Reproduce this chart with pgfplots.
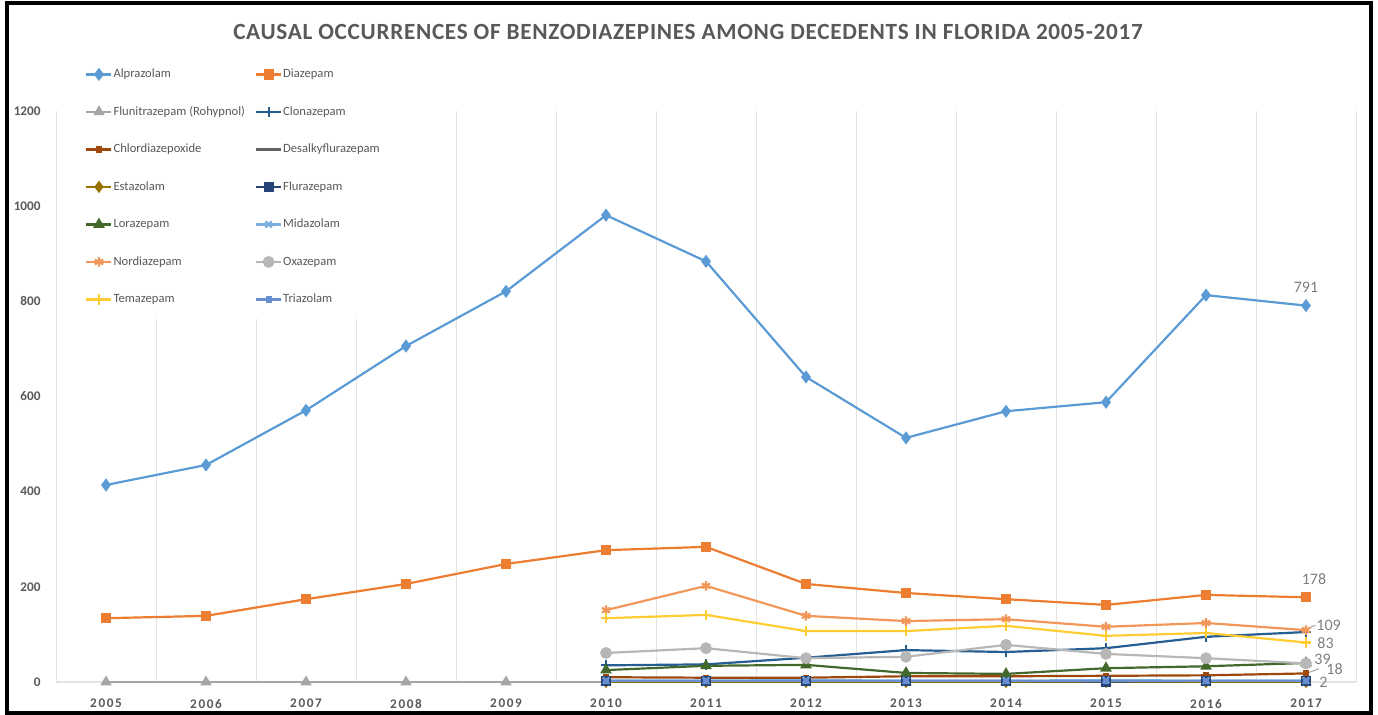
\documentclass[border=0pt]{standalone}
\usepackage{fontspec}
\setmainfont{Carlito}
\newfontfamily\spacedfont[LetterSpace=12]{Carlito}
\newfontfamily\titlefont[LetterSpace=3]{Carlito}
\usepackage{pgfplots}
\pgfplotsset{compat=1.18}
\definecolor{cAlp}{HTML}{5B9BD5}
\definecolor{cDia}{HTML}{ED7D31}
\definecolor{cFlu}{HTML}{A5A5A5}
\definecolor{cClo}{HTML}{255E91}
\definecolor{cChl}{HTML}{9E480E}
\definecolor{cDes}{HTML}{636363}
\definecolor{cEst}{HTML}{997300}
\definecolor{cFlz}{HTML}{264478}
\definecolor{cLor}{HTML}{43682B}
\definecolor{cMid}{HTML}{7CAFDD}
\definecolor{cNor}{HTML}{F1975A}
\definecolor{cOxa}{HTML}{B7B7B7}
\definecolor{cTem}{HTML}{FFCD33}
\definecolor{cTri}{HTML}{698ED0}
\definecolor{cTxt}{HTML}{595959}
\definecolor{cGrid}{HTML}{E3E3E3}
\definecolor{cLab}{HTML}{7F7F7F}
\begin{document}
\begin{tikzpicture}
\path[use as bounding box] (0,0) rectangle (689pt,357.5pt);
\draw[line width=2pt] (3.5pt,1pt) rectangle (685.5pt,356pt);
\node[font=\titlefont\bfseries\fontsize{11.6}{13}\selectfont, text=cTxt] at (344pt,341.5pt) {CAUSAL OCCURRENCES OF BENZODIAZEPINES AMONG DECEDENTS IN FLORIDA 2005-2017};
\begin{axis}[
  at={(28pt,16.5pt)}, anchor=south west, scale only axis,
  width=650pt, height=285.5pt,
  xmin=-0.5, xmax=12.5, ymin=0, ymax=1200,
  xtick={0,...,12},
  xticklabels={2005,2006,2007,2008,2009,2010,2011,2012,2013,2014,2015,2016,2017},
  ytick={0,200,...,1200},
  yticklabels={0,200,400,600,800,1000,1200},
  minor xtick={-0.5,0.5,...,12.5},
  xminorgrids,
  minor grid style={draw=cGrid, line width=0.45pt},
  major tick length=0pt, minor tick length=0pt,
  axis x line*=bottom, axis y line*=left,
  y axis line style={draw=none},
  x axis line style={draw=cGrid, line width=0.7pt},
  xticklabel style={font=\spacedfont\bfseries\fontsize{6.6}{7}\selectfont, text=cTxt, yshift=-5pt},
  yticklabel style={font=\bfseries\fontsize{6.6}{7}\selectfont, text=cTxt, xshift=-4.2pt},
  clip=false,
  legend columns=2,
  legend cell align=left,
  legend style={at={(0.0115,1.0998)}, anchor=north west, draw=none, fill=white,
    inner sep=7pt, font=\fontsize{6.3}{7}\selectfont, text=cTxt,
    nodes={inner sep=0pt, text height=4.6pt, text depth=1.4pt},
    row sep=12.75pt, column sep=0.5pt,
    /tikz/every even column/.append style={column sep=5pt}},
  legend image code/.code={\draw[mark repeat=2,mark phase=2] plot coordinates {(0pt,0pt)(6.25pt,0pt)(12.5pt,0pt)};},
  every axis plot/.append style={line width=1.1pt},
]
% Alprazolam
\addplot[color=cAlp, mark=diamond*, mark size=2.4pt] coordinates {
 (0,414) (1,456) (2,571) (3,706) (4,821) (5,981) (6,884) (7,641) (8,513) (9,569) (10,588) (11,813) (12,791)};
\addlegendentry{Alprazolam}
% Diazepam
\addplot[color=cDia, mark=square*, mark size=2pt] coordinates {
 (0,134) (1,139) (2,174) (3,206) (4,248) (5,277) (6,284) (7,206) (8,187) (9,174) (10,162) (11,183) (12,178)};
\addlegendentry{Diazepam}
% Flunitrazepam
\addplot[color=cFlu, mark=triangle*, mark size=2.2pt] coordinates {
 (0,0) (1,0) (2,0) (3,0) (4,0) (5,0) (6,0) (7,0) (8,0) (9,0) (10,0) (11,0) (12,0)};
\addlegendentry{Flunitrazepam (Rohypnol)}
% Clonazepam
\addplot[color=cClo, mark=+, mark size=2.6pt] coordinates {
 (5,35) (6,37) (7,51) (8,67) (9,63) (10,71) (11,95) (12,105)};
\addlegendentry{Clonazepam}
% Chlordiazepoxide
\addplot[color=cChl, mark=square*, mark size=1pt] coordinates {
 (5,10) (6,9) (7,9) (8,12) (9,12) (10,13) (11,14) (12,18)};
\addlegendentry{Chlordiazepoxide}
% Desalkylflurazepam
\addplot[color=cDes, mark=-, mark size=2.5pt] coordinates {
 (5,1) (6,1) (7,1) (8,1) (9,1) (10,1) (11,1) (12,1)};
\addlegendentry{Desalkyflurazepam}
% Estazolam
\addplot[color=cEst, mark=diamond*, mark size=2.2pt] coordinates {
 (5,0) (6,0) (7,0) (8,0) (9,0) (10,0) (11,0) (12,0)};
\addlegendentry{Estazolam}
% Flurazepam
\addplot[color=cFlz, mark=square*, mark size=2pt] coordinates {
 (5,2) (6,2) (7,2) (8,2) (9,2) (10,1) (11,2) (12,2)};
\addlegendentry{Flurazepam}
% Lorazepam
\addplot[color=cLor, mark=triangle*, mark size=2.3pt] coordinates {
 (5,25) (6,34) (7,36) (8,19) (9,17) (10,29) (11,33) (12,40)};
\addlegendentry{Lorazepam}
% Midazolam
\addplot[color=cMid, mark=x, mark size=2.2pt] coordinates {
 (5,3) (6,3) (7,4) (8,3) (9,3) (10,4) (11,3) (12,3)};
\addlegendentry{Midazolam}
% Nordiazepam
\addplot[color=cNor, mark=asterisk, mark size=2.4pt] coordinates {
 (5,151) (6,202) (7,139) (8,128) (9,132) (10,116) (11,124) (12,109)};
\addlegendentry{Nordiazepam}
% Oxazepam
\addplot[color=cOxa, mark=*, mark size=2.4pt] coordinates {
 (5,61) (6,71) (7,50) (8,53) (9,78) (10,59) (11,50) (12,39)};
\addlegendentry{Oxazepam}
% Temazepam
\addplot[color=cTem, mark=+, mark size=2.6pt] coordinates {
 (5,134) (6,141) (7,107) (8,107) (9,118) (10,97) (11,103) (12,83)};
\addlegendentry{Temazepam}
% Triazolam
\addplot[color=cTri, mark=square*, mark size=1pt] coordinates {
 (5,2) (6,2) (7,2) (8,2) (9,2) (10,2) (11,2) (12,2)};
\addlegendentry{Triazolam}
% data labels
\draw[cFlu, line width=0.5pt] (axis cs:12.02,111) -- (axis cs:12.07,118) -- (axis cs:12.1,118);
\draw[cFlu, line width=0.5pt] (axis cs:12.03,20) -- (axis cs:12.13,28);
\begin{scope}[every node/.style={font=\fontsize{8}{9}\selectfont, text=cLab, inner sep=0pt}]
\node at (axis cs:12,830) {791};
\node at (axis cs:12.08,216.5) {178};
\node[anchor=west] at (axis cs:12.1,119.8) {109};
\node[anchor=west] at (axis cs:12.11,82) {83};
\node[anchor=west] at (axis cs:12.08,48.3) {39};
\node[anchor=west] at (axis cs:12.2,27.3) {18};
\node[anchor=west] at (axis cs:12.13,0) {2};
\end{scope}
\end{axis}
\end{tikzpicture}
\end{document}
